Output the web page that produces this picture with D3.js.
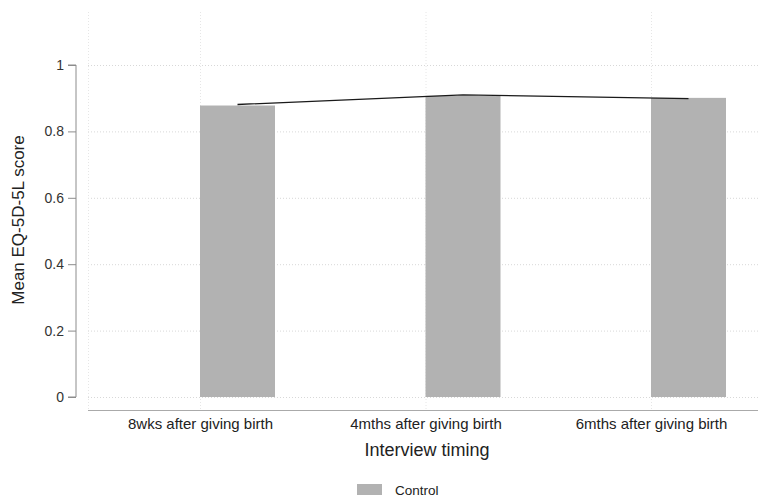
<!DOCTYPE html>
<html>
<head>
<meta charset="utf-8">
<script src="https://cdn.jsdelivr.net/npm/d3@7"></script>
<style>
  html, body { margin: 0; padding: 0; background: #fff; }
  svg { display: block; font-family: "Liberation Sans", Arial, sans-serif; }
</style>
</head>
<body>
<svg id="chart" width="761" height="500"></svg>
<script>
const categories = ["8wks after giving birth", "4mths after giving birth", "6mths after giving birth"];
const barValues = [0.878, 0.907, 0.901];
const lineValues = [0.881, 0.910, 0.899];
const yTicks = [0, 0.2, 0.4, 0.6, 0.8, 1];
const yTickLabels = ["0", "0.2", "0.4", "0.6", "0.8", "1"];
const legendLabels = ["Control"];

const svg = d3.select("#chart");
const plotLeft = 88, plotRight = 758, plotTop = 12, xAxisY = 410;
const barW = 75;

const x = d3.scalePoint().domain(categories).range([200, 651]);
const y = d3.scaleLinear().domain([0, 1]).range([397, 65]);

// gridlines
const grid = svg.append("g").attr("stroke-width", 1).attr("stroke-dasharray", "1,2");
grid.selectAll("line.h").data(yTicks).enter().append("line")
  .attr("stroke", "#d8d8d8")
  .attr("x1", plotLeft).attr("x2", plotRight)
  .attr("y1", d => y(d) + 0.5).attr("y2", d => y(d) + 0.5);
grid.selectAll("line.v").data([plotLeft].concat(categories.map(c => x(c)))).enter().append("line")
  .attr("stroke", "#e6e6e6")
  .attr("x1", d => d + 0.5).attr("x2", d => d + 0.5)
  .attr("y1", plotTop).attr("y2", xAxisY);

// bars
svg.append("g").selectAll("rect").data(categories).enter().append("rect")
  .attr("x", d => x(d))
  .attr("width", barW)
  .attr("y", (d, i) => y(barValues[i]))
  .attr("height", (d, i) => y(0) - y(barValues[i]))
  .attr("fill", "#b2b2b2");

// line
const line = d3.line().x((d, i) => x(categories[i]) + barW / 2).y(d => y(d));
svg.append("path").datum(lineValues)
  .attr("d", line).attr("fill", "none").attr("stroke", "#1a1a1a").attr("stroke-width", 1.3);

// y axis
const yAxis = d3.axisLeft(y).tickValues(yTicks).tickFormat((d, i) => yTickLabels[i]).tickSize(8).tickPadding(4);
const gy = svg.append("g").attr("transform", "translate(76,0)").call(yAxis);
gy.select(".domain").attr("stroke", "#8c8c8c").attr("d", "M-8," + y(1) + "H0V" + y(0) + "H-8");
gy.selectAll(".tick line").attr("stroke", "#8c8c8c");
gy.selectAll(".tick text").attr("font-size", 14).attr("fill", "#333").attr("font-family", "Liberation Sans, Arial, sans-serif");

// x axis
const xAxis = d3.axisBottom(x).tickSize(0).tickPadding(8);
const gx = svg.append("g").attr("transform", "translate(0," + xAxisY + ")").call(xAxis);
gx.select(".domain").attr("stroke", "#aaaaaa").attr("d", "M" + plotLeft + ",0.5H" + plotRight);
gx.selectAll(".tick text").attr("font-size", 15).attr("fill", "#222").attr("font-family", "Liberation Sans, Arial, sans-serif");

// axis titles
svg.append("text").attr("transform", "translate(24,220) rotate(-90)")
  .attr("text-anchor", "middle").attr("font-size", 17).attr("fill", "#222")
  .text("Mean EQ-5D-5L score");
svg.append("text").attr("x", 427).attr("y", 456)
  .attr("text-anchor", "middle").attr("font-size", 18).attr("fill", "#222")
  .text("Interview timing");

// legend
const lg = svg.append("g").selectAll("g").data(legendLabels).enter().append("g");
lg.append("rect").attr("x", 357).attr("y", 484).attr("width", 25).attr("height", 11).attr("fill", "#b2b2b2");
lg.append("text").attr("x", 395).attr("y", 494.5).attr("font-size", 13.5).attr("fill", "#222").text(d => d);
</script>
</body>
</html>
